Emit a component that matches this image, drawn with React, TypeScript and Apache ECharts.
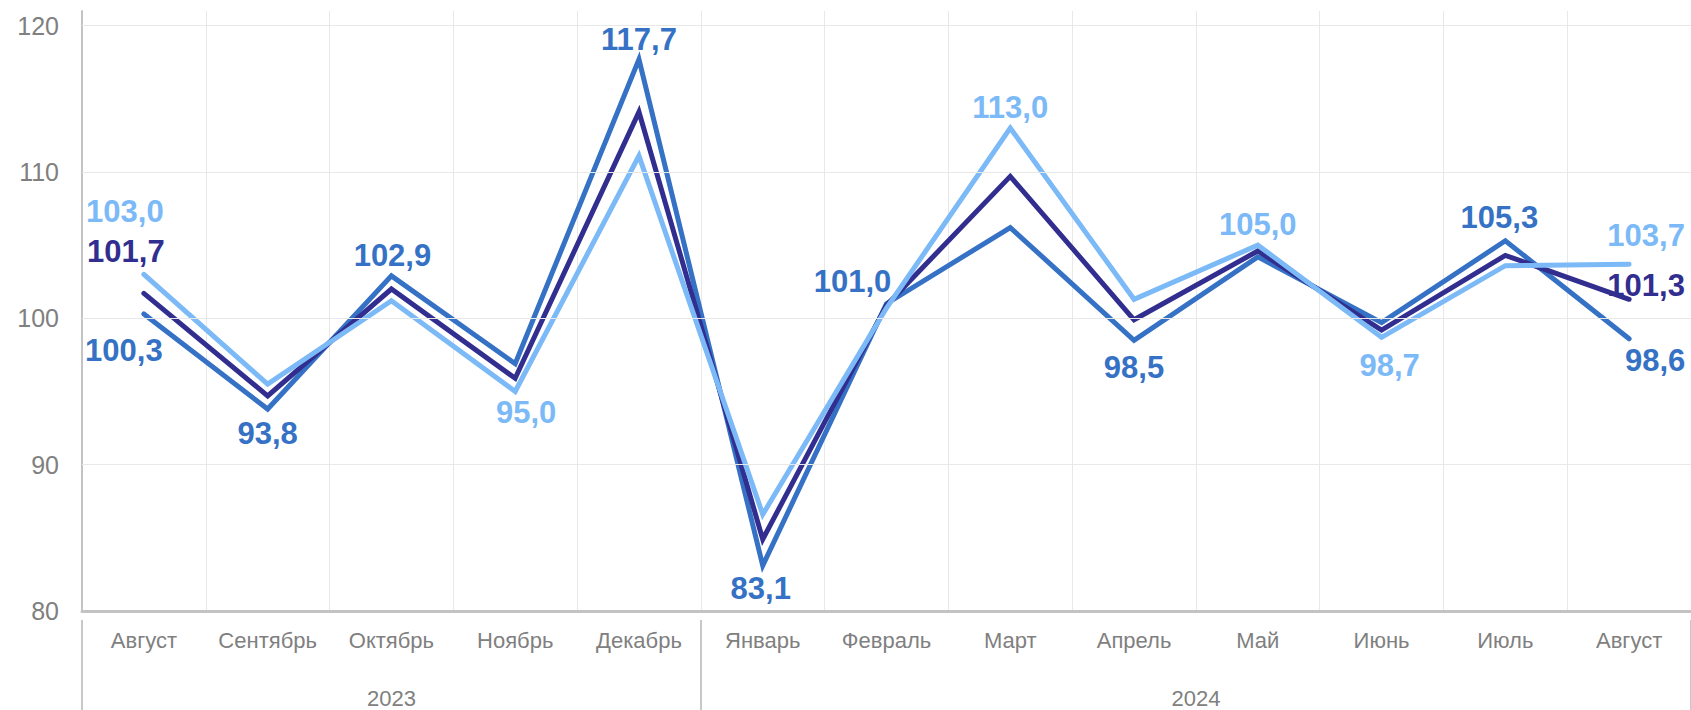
import React, { useEffect, useRef } from 'react';
import * as echarts from 'echarts';

const months = ['Август', 'Сентябрь', 'Октябрь', 'Ноябрь', 'Декабрь', 'Январь', 'Февраль', 'Март', 'Апрель', 'Май', 'Июнь', 'Июль', 'Август'];
const years = ['2023', '2024'];
const yearSpans = [5, 8];
const yTicks = [80, 90, 100, 110, 120];

const seriesMedium = [100.3, 93.8, 102.9, 96.9, 117.7, 83.1, 101.0, 106.2, 98.5, 104.2, 99.7, 105.3, 98.6];
const seriesDark = [101.7, 94.7, 102.0, 95.9, 114.1, 84.9, 100.9, 109.7, 99.9, 104.6, 99.2, 104.3, 101.3];
const seriesLight = [103.0, 95.5, 101.2, 95.0, 111.1, 86.6, 100.7, 113.0, 101.3, 105.0, 98.7, 103.6, 103.7];

const FONT = "'Liberation Sans', Arial, Helvetica, sans-serif";
const C_MED = '#3571c4';
const C_DARK = '#312e8f';
const C_LIGHT = '#7bb9f7';

type LabelSpec = { idx: number; dx: number; dy: number };
const mediumLabels: LabelSpec[] = [
  { idx: 0, dx: -20, dy: 37 },
  { idx: 1, dx: 0, dy: 24 },
  { idx: 2, dx: 1, dy: -20 },
  { idx: 4, dx: 0, dy: -20 },
  { idx: 5, dx: -2, dy: 23 },
  { idx: 6, dx: -34, dy: -22 },
  { idx: 8, dx: 0, dy: 27 },
  { idx: 11, dx: -6, dy: -23 },
  { idx: 12, dx: 26, dy: 22 },
];
const darkLabels: LabelSpec[] = [
  { idx: 0, dx: -18, dy: -42 },
  { idx: 12, dx: 17, dy: -14 },
];
const lightLabels: LabelSpec[] = [
  { idx: 0, dx: -19, dy: -63 },
  { idx: 3, dx: 11, dy: 21 },
  { idx: 7, dx: 0, dy: -21 },
  { idx: 9, dx: 0, dy: -21 },
  { idx: 10, dx: 8, dy: 28 },
  { idx: 12, dx: 17, dy: -29 },
];

const fmt = (v: number) => v.toFixed(1).replace('.', ',');

function buildData(values: number[], specs: LabelSpec[], color: string) {
  return values.map((v, i) => {
    const s = specs.find((x) => x.idx === i);
    if (!s) return v;
    return {
      value: v,
      label: {
        show: true,
        position: 'inside',
        offset: [s.dx, s.dy],
        formatter: () => fmt(v),
        color,
        fontSize: 31,
        fontWeight: 'bold',
        fontFamily: FONT,
      },
    };
  });
}

function lineSeries(name: string, values: number[], specs: LabelSpec[], color: string, z: number) {
  return {
    name,
    type: 'line',
    xAxisIndex: 0,
    yAxisIndex: 0,
    data: buildData(values, specs, color),
    symbol: 'circle',
    symbolSize: 0,
    showSymbol: true,
    itemStyle: { color },
    lineStyle: { color, width: 5, cap: 'round', join: 'miter' },
    label: { show: false },
    z,
  };
}

export default function App() {
  const ref = useRef<HTMLDivElement>(null);

  useEffect(() => {
    if (!ref.current) return;
    const chart = echarts.init(ref.current, undefined, { renderer: 'svg' });

    let cum = 0;
    const yearCenters = yearSpans.map((s) => {
      const c = cum + s / 2;
      cum += s;
      return c;
    });
    let acc = 0;
    const yearBounds = [0, ...yearSpans.map((s) => (acc += s))];
    const total = acc;

    const option: any = {
      animation: false,
      backgroundColor: '#ffffff',
      textStyle: { fontFamily: FONT },
      grid: { left: 82, right: 0, top: 11, bottom: 99, containLabel: false, outerBoundsMode: 'none' },
      xAxis: [
        {
          type: 'category',
          data: months,
          boundaryGap: true,
          position: 'bottom',
          axisLine: { show: true, lineStyle: { color: '#c3c3c3', width: 3 } },
          axisTick: { show: false },
          axisLabel: { interval: 0, fontSize: 22, color: '#808080', margin: 18, fontFamily: FONT },
          splitLine: { show: true, lineStyle: { color: '#e8e8e8', width: 1 } },
        },
        {
          type: 'value',
          min: 0,
          max: total,
          position: 'bottom',
          offset: 9,
          axisLine: { show: false },
          axisTick: {
            show: true,
            customValues: yearBounds,
            length: 95,
            inside: false,
            lineStyle: { color: '#c8c8c8', width: 2 },
          },
          axisLabel: {
            show: true,
            customValues: yearCenters,
            formatter: (v: number) => {
              const i = yearCenters.findIndex((c) => Math.abs(c - v) < 1e-6);
              return i >= 0 ? years[i] : '';
            },
            fontSize: 22,
            color: '#808080',
            margin: 67,
            fontFamily: FONT,
          },
          splitLine: { show: false },
        },
      ],
      yAxis: {
        type: 'value',
        min: 80,
        max: 121,
        interval: 10,
        axisLine: { show: true, lineStyle: { color: '#c3c3c3', width: 2 } },
        axisTick: { show: false },
        axisLabel: {
          fontSize: 25,
          color: '#808080',
          margin: 23,
          fontFamily: FONT,
          formatter: (v: number) => (yTicks.includes(v) ? String(v) : ''),
        },
        splitLine: { show: false },
      },
      series: [
        {
          name: 'grid',
          type: 'line',
          data: [],
          silent: true,
          z: 0,
          markLine: {
            silent: true,
            symbol: ['none', 'none'],
            label: { show: false },
            lineStyle: { color: '#e8e8e8', width: 1, type: 'solid' },
            emphasis: { disabled: true },
            data: yTicks.filter((t) => t !== 80).map((t) => ({ yAxis: t })),
          },
        },
        lineSeries('Ряд 1', seriesMedium, mediumLabels, C_MED, 2),
        lineSeries('Ряд 2', seriesDark, darkLabels, C_DARK, 3),
        lineSeries('Ряд 3', seriesLight, lightLabels, C_LIGHT, 4),
      ],
    };

    chart.setOption(option);
    return () => chart.dispose();
  }, []);

  return (
    <div
      ref={ref}
      style={{ position: 'fixed', left: 0, top: 0, width: 1691, height: 710, background: '#fff' }}
    />
  );
}
